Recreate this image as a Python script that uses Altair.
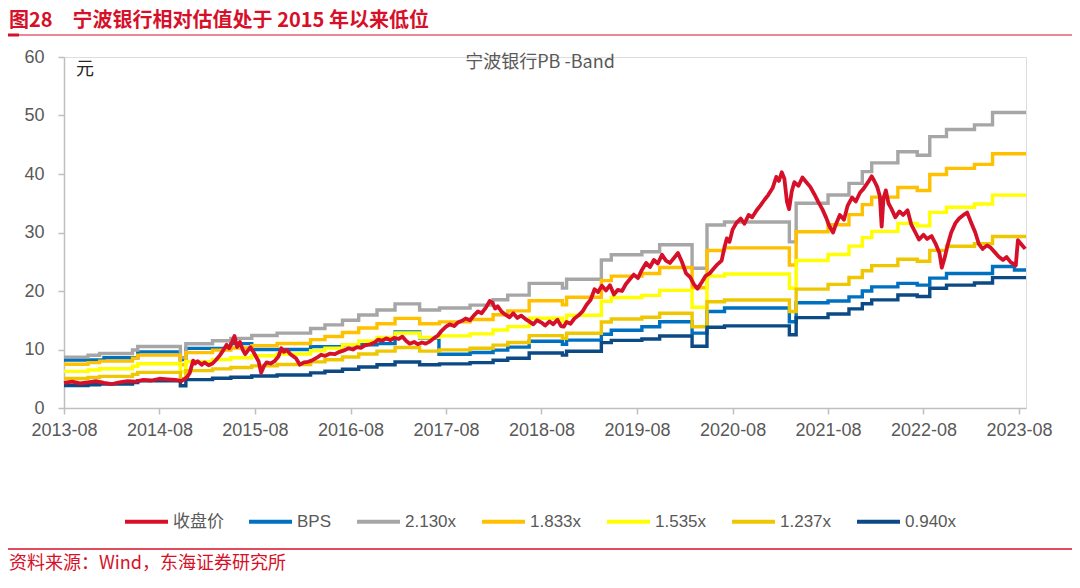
import altair as alt
import pandas as pd

# ---------------- data ----------------
SERIES = ["收盘价", "BPS", "2.130x", "1.833x", "1.535x", "1.237x", "0.940x"]
COLORS = ["#D7102A", "#0070C0", "#A6A6A6", "#FFC000", "#FFFF00", "#EFC700", "#0B4A84"]
MULTIPLES = [2.130, 1.833, 1.535, 1.237, 0.940]

# adjusted book value per share underlying the PB bands (step series)
BASE_DATES = [
    "2013-08-01", "2013-11-01", "2013-12-15", "2014-04-20", "2014-05-10", "2014-10-20",
    "2014-11-10", "2015-02-20", "2015-05-01", "2015-07-20", "2015-10-25", "2016-03-01",
    "2016-04-25", "2016-07-01", "2016-09-01", "2016-11-10", "2017-01-18", "2017-04-22",
    "2017-07-07", "2017-11-01", "2018-01-28", "2018-03-25", "2018-06-15", "2018-10-20",
    "2018-11-05", "2019-03-18", "2019-04-25", "2019-08-20", "2019-10-27", "2020-02-28",
    "2020-04-25", "2020-07-01", "2021-03-06", "2021-04-01", "2021-08-01", "2021-10-20",
    "2021-12-10", "2022-01-15", "2022-04-25", "2022-07-08", "2022-08-25", "2022-10-28",
    "2023-02-12", "2023-04-22", "2023-08-28",
]
BASE_VALUES = [
    4.08, 4.23, 4.37, 4.65, 4.93, 4.04,
    5.16, 5.40, 5.59, 5.82, 6.01, 6.38,
    6.67, 7.04, 7.46, 7.86, 8.36, 7.86,
    8.03, 8.26, 8.69, 9.06, 10.00, 9.62,
    10.33, 11.88, 12.30, 12.54, 13.10, 11.22,
    14.69, 14.93, 13.33, 16.43, 17.09, 18.03,
    18.97, 19.67, 20.56, 20.28, 21.78, 22.35,
    22.72, 23.71, 23.71,
]

# reported BPS line (step series)
BPS_DATES = [
    "2013-08-01", "2014-01-01", "2014-05-10", "2014-10-20", "2014-11-10", "2015-05-01",
    "2015-07-20", "2016-03-01", "2016-07-01", "2016-11-10", "2017-01-18", "2017-04-22",
    "2017-07-05", "2017-11-01", "2018-01-28", "2018-03-25", "2018-06-15", "2018-10-20",
    "2018-11-05", "2019-03-18", "2019-04-25", "2019-08-20", "2019-10-27", "2020-02-28",
    "2020-04-25", "2020-07-01", "2021-03-06", "2021-04-01", "2021-08-01", "2021-10-20",
    "2021-12-10", "2022-01-15", "2022-04-25", "2022-07-08", "2022-08-25", "2022-10-28",
    "2023-04-22", "2023-07-15", "2023-08-28",
]
BPS_VALUES = [
    8.2, 8.6, 9.6, 8.3, 10.2, 11.0,
    10.0, 10.5, 10.8, 11.0, 13.0, 12.0,
    9.2, 9.5, 9.9, 10.4, 11.4, 10.9,
    11.6, 12.6, 13.3, 13.9, 14.75, 12.8,
    16.5, 17.1, 14.75, 18.0, 18.3, 19.0,
    20.0, 20.7, 21.3, 21.0, 22.2, 23.0,
    24.2, 23.6, 23.6,
]

# closing price
PRICE_DATES = [
    "2013-08-01", "2013-09-01", "2013-10-01", "2013-11-01", "2013-12-01", "2014-01-01",
    "2014-02-01", "2014-03-01", "2014-04-01", "2014-05-01", "2014-06-01", "2014-07-01",
    "2014-08-01", "2014-09-01", "2014-10-01", "2014-10-25",
    "2014-11-15", "2014-11-25", "2014-12-01", "2014-12-08", "2014-12-15", "2014-12-25",
    "2015-01-10", "2015-01-20", "2015-02-05", "2015-02-20", "2015-03-05", "2015-03-20",
    "2015-04-01", "2015-04-15", "2015-04-25", "2015-05-05", "2015-05-15", "2015-05-25",
    "2015-06-05", "2015-06-15", "2015-06-25", "2015-07-05", "2015-07-15", "2015-07-25",
    "2015-08-05", "2015-08-15", "2015-08-25", "2015-09-05", "2015-09-15", "2015-09-30",
    "2015-10-15", "2015-10-30", "2015-11-10", "2015-11-20", "2015-12-01", "2015-12-15",
    "2016-01-05", "2016-01-20", "2016-02-05", "2016-02-20", "2016-03-05", "2016-03-25",
    "2016-04-10", "2016-04-25", "2016-05-15", "2016-06-01", "2016-06-20", "2016-07-10",
    "2016-07-25", "2016-08-10", "2016-08-25", "2016-09-10", "2016-09-25", "2016-10-15",
    "2016-11-01", "2016-11-15", "2016-12-01", "2016-12-15", "2017-01-01", "2017-01-15",
    "2017-02-01", "2017-02-15", "2017-03-01", "2017-03-15", "2017-04-01", "2017-04-15",
    "2017-05-01", "2017-05-15", "2017-06-01", "2017-06-15", "2017-07-01", "2017-07-15",
    "2017-08-01", "2017-08-15", "2017-09-01", "2017-09-15", "2017-10-01", "2017-10-15",
    "2017-11-01", "2017-11-15", "2017-12-01", "2017-12-15", "2018-01-01", "2018-01-15",
    "2018-01-25", "2018-02-05", "2018-02-15", "2018-03-01", "2018-03-15", "2018-04-01",
    "2018-04-15", "2018-05-01", "2018-05-15", "2018-06-01", "2018-06-15", "2018-07-01",
    "2018-07-15", "2018-08-01", "2018-08-15", "2018-09-01", "2018-09-15", "2018-10-01",
    "2018-10-15", "2018-10-25", "2018-11-05", "2018-11-20", "2018-12-05", "2018-12-20",
    "2019-01-05", "2019-01-20", "2019-02-05", "2019-02-20", "2019-03-05", "2019-03-20",
    "2019-04-05", "2019-04-20", "2019-05-05", "2019-05-20", "2019-06-05", "2019-06-20",
    "2019-07-05", "2019-07-20", "2019-08-05", "2019-08-20", "2019-09-05", "2019-09-20",
    "2019-10-05", "2019-10-20", "2019-11-05", "2019-11-20", "2019-12-05", "2019-12-20",
    "2020-01-05", "2020-01-20", "2020-02-05", "2020-02-20", "2020-03-05", "2020-03-20",
    "2020-04-05", "2020-04-20", "2020-05-05", "2020-05-20", "2020-06-05", "2020-06-20",
    "2020-07-01", "2020-07-10", "2020-07-20", "2020-08-01", "2020-08-15", "2020-09-01",
    "2020-09-15", "2020-10-01", "2020-10-15", "2020-11-01", "2020-11-15", "2020-12-01",
    "2020-12-15", "2021-01-01", "2021-01-15", "2021-01-25", "2021-02-05", "2021-02-15",
    "2021-02-25", "2021-03-05", "2021-03-15", "2021-03-25", "2021-04-10", "2021-04-25",
    "2021-05-10", "2021-05-25", "2021-06-10", "2021-06-25", "2021-07-10", "2021-07-25",
    "2021-08-05", "2021-08-20", "2021-09-01", "2021-09-15", "2021-10-01", "2021-10-15",
    "2021-11-01", "2021-11-15", "2021-12-01", "2021-12-15", "2022-01-01", "2022-01-15",
    "2022-01-25", "2022-02-05", "2022-02-15", "2022-02-22", "2022-03-01", "2022-03-10",
    "2022-03-20", "2022-04-01", "2022-04-15", "2022-05-01", "2022-05-15", "2022-06-01",
    "2022-06-15", "2022-07-01", "2022-07-15", "2022-08-01", "2022-08-15", "2022-09-01",
    "2022-09-15", "2022-10-01", "2022-10-10", "2022-10-20", "2022-11-01", "2022-11-15",
    "2022-12-01", "2022-12-15", "2023-01-01", "2023-01-15", "2023-02-01", "2023-02-15",
    "2023-03-01", "2023-03-15", "2023-04-01", "2023-04-15", "2023-05-01", "2023-05-15",
    "2023-06-01", "2023-06-15", "2023-07-01", "2023-07-20", "2023-07-28", "2023-08-10",
    "2023-08-25",
]
PRICE_VALUES = [
    4.3, 4.5, 4.2, 4.4, 4.6, 4.3,
    4.1, 4.4, 4.6, 4.5, 4.8, 4.7,
    5.0, 4.9, 4.8, 4.6,
    5.3, 6.0, 7.0, 8.1, 7.6, 8.0,
    7.4, 7.8, 7.3, 7.6, 8.2, 9.0,
    9.8, 10.8, 10.2, 11.2, 12.3, 10.4,
    11.3, 10.0, 9.2, 9.8, 10.4, 9.7,
    8.8, 8.0, 6.0, 7.2, 7.8, 7.6,
    8.0, 8.8, 10.2, 9.6, 9.9, 9.2,
    8.5, 7.4, 7.8, 7.9, 8.1, 8.6,
    9.1, 8.9, 9.3, 9.2, 9.6, 9.9,
    10.2, 10.0, 10.4, 10.3, 10.7, 10.9,
    11.2, 11.7, 11.5, 11.9, 11.6, 12.0,
    11.8, 12.2, 11.5, 11.0, 11.3, 10.9,
    11.2, 11.0, 11.4, 11.9, 12.4, 13.2,
    13.9, 14.3, 14.0, 14.6, 14.9, 15.3,
    15.0, 15.8, 16.5, 16.2, 17.2, 18.3,
    18.0, 17.0, 17.4, 16.5, 16.0, 15.5,
    16.2, 15.4, 15.8, 15.2, 14.8, 14.3,
    15.0, 14.6, 14.1, 14.8, 14.3, 15.1,
    14.0, 13.9, 14.7, 14.4, 15.3, 15.8,
    16.5, 17.6, 18.5, 20.3, 19.8, 20.9,
    20.1, 21.0, 19.4, 20.2, 20.0, 21.2,
    22.0, 22.8, 22.2, 23.6, 24.8, 24.1,
    25.3, 24.7, 26.2, 25.2, 24.8, 25.6,
    26.5, 25.0, 23.0, 22.4, 21.2, 20.4,
    21.5, 22.6, 23.0, 23.8, 24.6, 25.2,
    27.5, 29.0, 28.4, 30.5, 31.6, 32.4,
    31.5, 33.0, 32.6, 33.8, 34.6, 35.6,
    36.4, 37.6, 39.5, 38.8, 40.3, 39.2,
    35.2, 34.0, 37.0, 38.6, 38.0, 39.4,
    38.6, 37.8, 36.5, 35.2, 34.0, 32.5,
    31.2, 30.0, 31.5, 33.0, 32.2, 34.6,
    36.0, 35.3, 36.8, 37.5, 38.6, 39.6,
    38.8, 37.8, 36.2, 31.0, 35.8, 37.2,
    35.0, 34.0, 32.6, 33.6, 33.0, 33.8,
    31.4, 30.0, 28.8, 29.6, 28.9, 29.4,
    28.2, 26.5, 24.0, 25.5, 27.8, 30.0,
    31.6, 32.4, 33.0, 33.4, 31.5, 30.0,
    28.0, 27.2, 27.8, 27.4, 26.6, 25.9,
    25.3, 25.8, 24.9, 24.4, 28.7, 28.0,
    27.2,
]

X_TICK_YEARS = list(range(2013, 2024))
Y_TICKS = [0, 10, 20, 30, 40, 50, 60]

# ---------------- build tables ----------------
price_df = pd.DataFrame({"date": PRICE_DATES, "value": PRICE_VALUES, "series": SERIES[0]})
bps_df = pd.DataFrame({"date": BPS_DATES, "value": BPS_VALUES, "series": SERIES[1]})
band_dfs = []
for name, mult in zip(SERIES[2:], MULTIPLES):
    band_dfs.append(pd.DataFrame({
        "date": BASE_DATES,
        "value": [round(v * mult, 3) for v in BASE_VALUES],
        "series": name,
    }))

FONT = "Liberation Sans, Arial, Noto Sans CJK SC, sans-serif"
CJK_FONT = "Noto Sans CJK SC, Liberation Sans, sans-serif"
GRAY_TXT = "#595959"
AXIS_GRAY = "#BFBFBF"

W, H = 962, 351

x_enc = alt.X(
    "date:T",
    scale=alt.Scale(
        type="utc",
        domain=[alt.DateTime(year=2013, month=8, date=1, utc=True),
                alt.DateTime(year=2023, month=8, date=28, utc=True)],
    ),
    axis=alt.Axis(
        values=[alt.DateTime(year=y, month=8, date=1, utc=True) for y in X_TICK_YEARS],
        labelExpr="utcFormat(datum.value, '%Y-%m')", title=None, grid=False,
        domainColor=AXIS_GRAY, domainWidth=1.5, tickColor=AXIS_GRAY, tickWidth=1.5,
        tickSize=6, labelFontSize=18, labelColor=GRAY_TXT, labelFont=FONT,
        labelPadding=7, labelFlush=False, labelOverlap=False,
    ),
)
y_enc = alt.Y(
    "value:Q",
    scale=alt.Scale(domain=[0, 60], nice=False, zero=True),
    axis=alt.Axis(
        values=Y_TICKS, title=None, grid=False,
        domainColor=AXIS_GRAY, domainWidth=1.5, tickColor=AXIS_GRAY, tickWidth=1.5,
        tickSize=6, labelFontSize=18, labelColor=GRAY_TXT, labelFont=FONT, labelPadding=14,
    ),
)

color_scale = alt.Scale(domain=SERIES, range=COLORS)
legend = alt.Legend(
    title=None, orient="none", legendX=59, legendY=441, direction="horizontal",
    columns=7, symbolType="stroke", symbolSize=1849, symbolStrokeWidth=4,
    labelFontSize=17, labelColor=GRAY_TXT, labelFont=FONT, labelOffset=3,
    columnPadding=17,
)

layers = []
step_dfs = [bps_df] + band_dfs
for i, df in enumerate(step_dfs):
    layers.append(
        alt.Chart(df).mark_line(interpolate="step-after", strokeWidth=3.4).encode(
            x=x_enc, y=y_enc,
            color=alt.Color("series:N", scale=color_scale,
                            legend=legend if i == 0 else None),
        )
    )
layers.append(
    alt.Chart(price_df).mark_line(strokeWidth=3.8, strokeJoin="round").encode(
        x=x_enc, y=y_enc,
        color=alt.Color("series:N", scale=color_scale, legend=None),
    )
)

one = pd.DataFrame({"k": [0]})
# top title and decorations (positions relative to the plot origin)
title = alt.Chart(one).mark_text(
    text="图28\u2002\u2002宁波银行相对估值处于 2015 年以来低位", align="left", baseline="middle",
    font=CJK_FONT, fontSize=20, fontWeight="bold", color="#D7102A",
).encode(x=alt.value(-55), y=alt.value(-36))
rule_top = alt.Chart(one).mark_rule(color="#D7102A", strokeWidth=1).encode(
    x=alt.value(-56), x2=alt.value(1008), y=alt.value(-22))
rule_top_thick = alt.Chart(one).mark_rule(color="#D7102A", strokeWidth=3).encode(
    x=alt.value(-56), x2=alt.value(-45), y=alt.value(-22))
chart_title = alt.Chart(one).mark_text(
    text="宁波银行PB -Band", align="center", baseline="middle",
    font=CJK_FONT, fontSize=18, color=GRAY_TXT,
).encode(x=alt.value(476), y=alt.value(6))
unit = alt.Chart(one).mark_text(
    text="元", align="center", baseline="middle", font=CJK_FONT, fontSize=18, color="#262626",
).encode(x=alt.value(21), y=alt.value(13))
rule_bottom = alt.Chart(one).mark_rule(color="#D7102A", strokeWidth=1.5).encode(
    x=alt.value(-56), x2=alt.value(1008), y=alt.value(492))
source = alt.Chart(one).mark_text(
    text="资料来源：Wind，东海证券研究所", align="left", baseline="middle",
    font=CJK_FONT, fontSize=18, color="#D7102A",
).encode(x=alt.value(-55), y=alt.value(507))

chart = alt.layer(
    *layers, title, rule_top, rule_top_thick, chart_title, unit, rule_bottom, source
).properties(
    width=W, height=H,
    autosize=alt.AutoSizeParams(type="none"),
    padding={"left": 56, "top": 49, "right": 46, "bottom": 176},
).configure_view(stroke=None).configure(background="white")

chart.save("out.html", embed_options={"renderer": "svg", "actions": False})
